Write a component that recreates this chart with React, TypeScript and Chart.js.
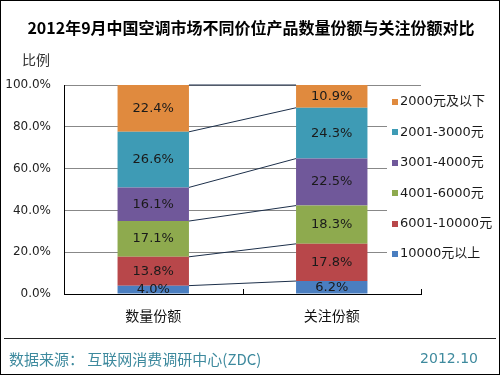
import React, { useEffect, useRef } from "react";
import { Chart, registerables } from "chart.js";

Chart.register(...registerables);

const categories = ["数量份额", "关注份额"];
const seriesNames = ["10000元以上", "6001-10000元", "4001-6000元", "3001-4000元", "2001-3000元", "2000元及以下"];
const s10000 = [4.0, 6.2];
const s6001 = [13.8, 17.8];
const s4001 = [17.1, 18.3];
const s3001 = [16.1, 22.5];
const s2001 = [26.6, 24.3];
const s2000 = [22.4, 10.9];
const seriesColors = ["#4A7EC0", "#B8474A", "#8EAA4E", "#70589A", "#3E9BB5", "#E08A3E"];

const titleText = "2012年9月中国空调市场不同价位产品数量份额与关注份额对比";
const yAxisTitle = "比例";
const sourceText = "数据来源： 互联网消费调研中心(ZDC)";
const dateText = "2012.10";

const FONT = '"DejaVu Sans", "Noto Sans CJK SC", sans-serif';
const CJK = '"Noto Sans CJK SC", "DejaVu Sans", sans-serif';

const decorPlugin = {
  id: "decor",
  afterDatasetsDraw(chart: any) {
    const ctx = chart.ctx;
    const n = chart.data.datasets.length;
    // series lines
    ctx.save();
    ctx.strokeStyle = "#1c2f4a";
    ctx.lineWidth = 1;
    for (let d = 0; d < n; d++) {
      const meta = chart.getDatasetMeta(d);
      const a = meta.data[0];
      const b = meta.data[1];
      ctx.beginPath();
      ctx.moveTo(a.x + a.width / 2, a.y);
      ctx.lineTo(b.x - b.width / 2, b.y);
      ctx.stroke();
    }
    // data labels
    ctx.fillStyle = "#1a1a1a";
    ctx.font = "13px " + FONT;
    ctx.textAlign = "center";
    ctx.textBaseline = "middle";
    for (let d = 0; d < n; d++) {
      const meta = chart.getDatasetMeta(d);
      meta.data.forEach((el: any, i: number) => {
        const v = chart.data.datasets[d].data[i];
        ctx.fillText(v.toFixed(1) + "%", el.x, (el.y + el.base) / 2);
      });
    }
    ctx.restore();
  },
  afterDraw(chart: any) {
    const ctx = chart.ctx;
    const area = chart.chartArea;
    ctx.save();
    // x tick marks (inside)
    ctx.strokeStyle = "#000";
    ctx.lineWidth = 1;
    const xs = chart.scales.x;
    const mid = (xs.getPixelForValue(0) + xs.getPixelForValue(1)) / 2;
    [mid, area.right].forEach((x) => {
      const px = Math.round(x) + 0.5;
      ctx.beginPath();
      ctx.moveTo(px, area.bottom);
      ctx.lineTo(px, area.bottom - 5);
      ctx.stroke();
    });
    // legend
    ctx.fillStyle = "#fff";
    ctx.fillRect(387, 90, 111, 176);
    ctx.font = "13px " + FONT;
    ctx.textAlign = "left";
    ctx.textBaseline = "middle";
    const n = seriesNames.length;
    for (let k = 0; k < n; k++) {
      const idx = n - 1 - k;
      const cy = 102 + k * 30.4;
      ctx.fillStyle = seriesColors[idx];
      ctx.fillRect(392, Math.round(cy - 3), 6, 6);
      ctx.fillStyle = "#1a1a1a";
      ctx.fillText(seriesNames[idx], 400, cy);
    }
    // title
    ctx.fillStyle = "#000";
    ctx.font = "bold 16px " + CJK;
    ctx.textAlign = "center";
    ctx.fillText(titleText, 251, 28);
    // y axis title
    ctx.fillStyle = "#333";
    ctx.font = "14px " + CJK;
    ctx.textAlign = "left";
    ctx.fillText(yAxisTitle, 22, 60);
    // footer line
    ctx.strokeStyle = "#222";
    ctx.beginPath();
    ctx.moveTo(4, 338.5);
    ctx.lineTo(496, 338.5);
    ctx.stroke();
    // footer text
    ctx.fillStyle = "#3E8A9E";
    ctx.font = "15px " + CJK;
    ctx.textAlign = "left";
    ctx.fillText(sourceText, 9, 359);
    ctx.textAlign = "right";
    ctx.font = "14px " + FONT;
    ctx.fillText(dateText, 478, 359);
    // outer border
    ctx.strokeStyle = "#000";
    ctx.strokeRect(0.5, 0.5, 499, 374);
    ctx.restore();
  },
};

export default function App() {
  const ref = useRef<HTMLCanvasElement | null>(null);
  useEffect(() => {
    if (!ref.current) return;
    const seriesData = [s10000, s6001, s4001, s3001, s2001, s2000];
    const chart = new Chart(ref.current, {
      type: "bar",
      data: {
        labels: categories,
        datasets: seriesNames.map((name, i) => ({
          label: name,
          data: seriesData[i],
          backgroundColor: seriesColors[i],
          borderWidth: 0,
          categoryPercentage: 1,
          barPercentage: 0.4,
        })),
      },
      options: {
        responsive: false,
        animation: false,
        devicePixelRatio: 1,
        layout: { padding: { top: 85, right: 79, left: 0, bottom: 0 } },
        plugins: {
          legend: { display: false },
          tooltip: { enabled: false },
          title: { display: false },
        },
        scales: {
          x: {
            stacked: true,
            grid: { display: false, drawTicks: false },
            border: { display: true, color: "#000", width: 1 },
            ticks: { font: { size: 14, family: CJK }, color: "#111", padding: 13 },
            afterFit: (s: any) => { s.height = 81; },
          },
          y: {
            stacked: true,
            min: 0,
            max: 100,
            grid: { color: "#888", drawTicks: false },
            border: { display: true, color: "#000", width: 1 },
            ticks: {
              stepSize: 20,
              padding: 13,
              color: "#222",
              font: { size: 12, family: FONT },
              callback: (v: any) => Number(v).toFixed(1) + "%",
            },
            afterFit: (s: any) => { s.width = 64; },
          },
        },
      },
      plugins: [decorPlugin],
    } as any);
    return () => chart.destroy();
  }, []);
  return (
    <div style={{ position: "absolute", left: 0, top: 0, width: 500, height: 375, background: "#fff" }}>
      <canvas ref={ref} width={500} height={375} style={{ display: "block" }} />
    </div>
  );
}
